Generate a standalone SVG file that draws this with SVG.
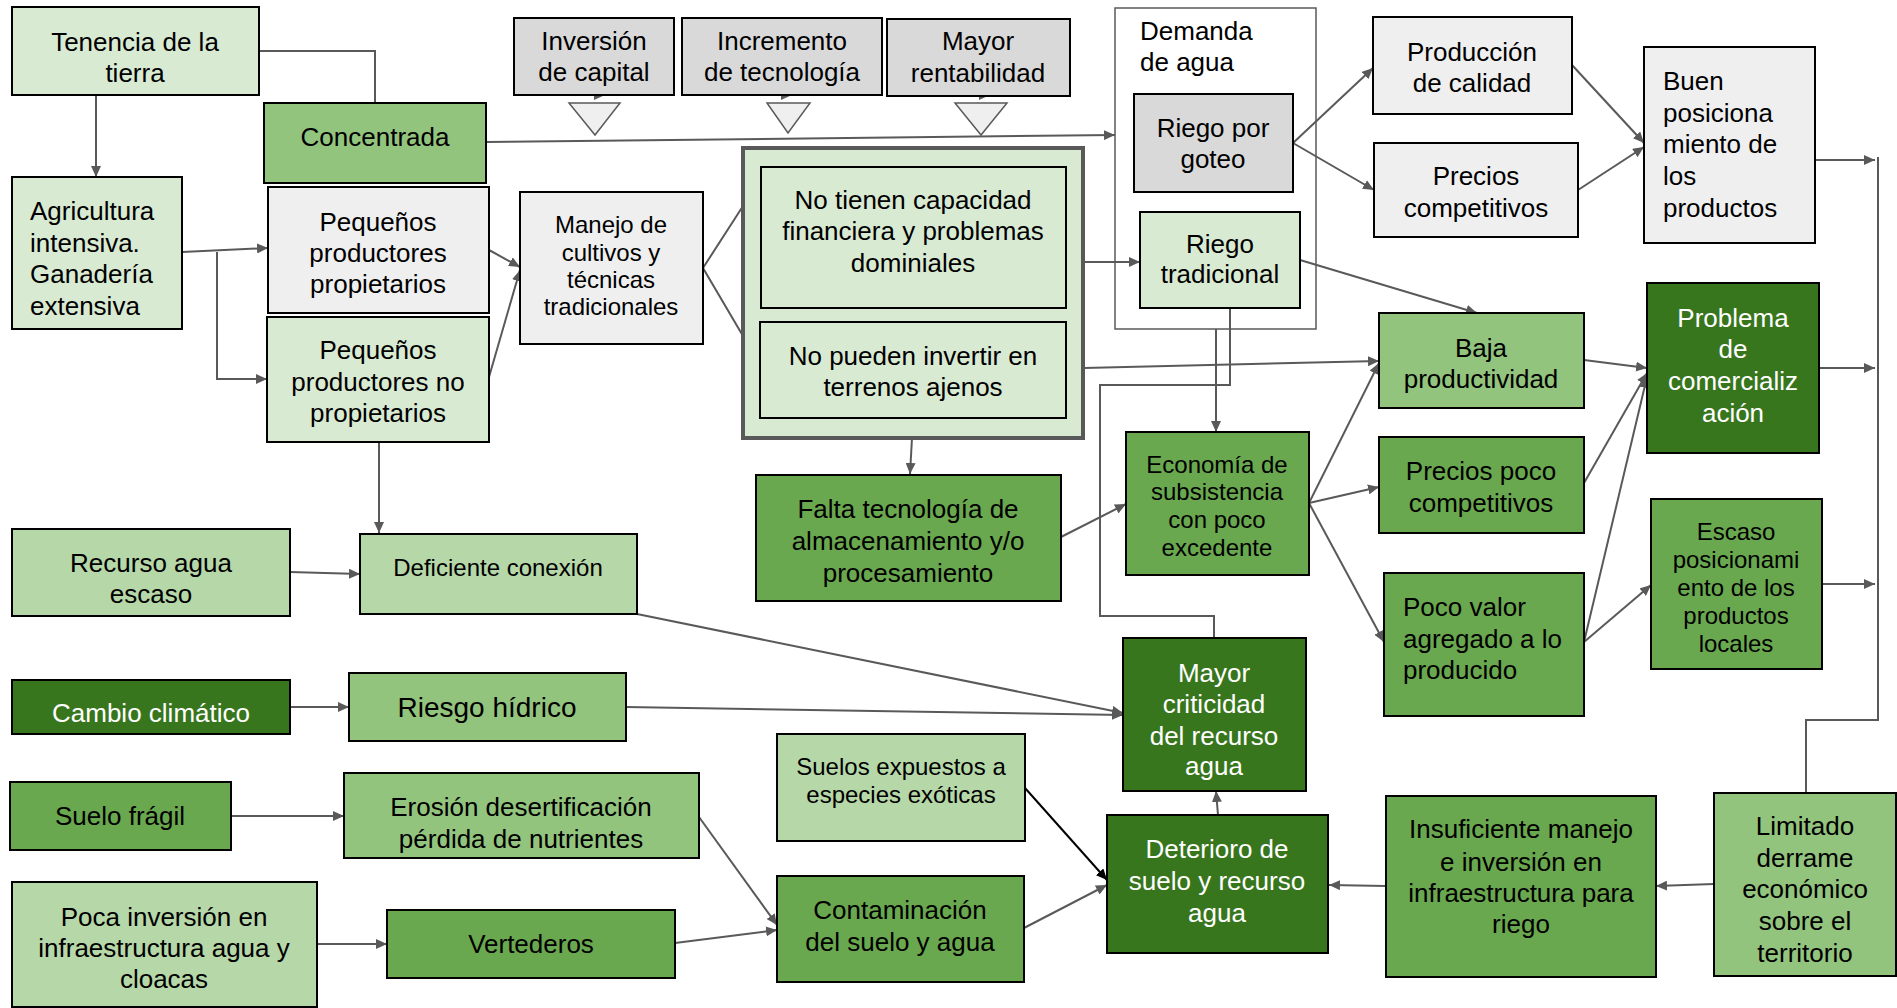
<svg xmlns="http://www.w3.org/2000/svg" width="1897" height="1008" viewBox="0 0 1897 1008">
  <defs>
    <marker id="arr" markerUnits="userSpaceOnUse" markerWidth="12" markerHeight="10" refX="11" refY="5" orient="auto">
      <path d="M0,0 L11,5 L0,10 z" fill="#595959"/>
    </marker>
    <marker id="arrk" markerUnits="userSpaceOnUse" markerWidth="12" markerHeight="10" refX="11" refY="5" orient="auto">
      <path d="M0,0 L11,5 L0,10 z" fill="#000"/>
    </marker>
    <style>
      .box { stroke: #000; stroke-width: 2; }
      .g0 { fill: #efefef; }
      .g1 { fill: #d9d9d9; }
      .l1 { fill: #d9ead3; }
      .l2 { fill: #b6d7a8; }
      .l3 { fill: #93c47d; }
      .m { fill: #6aa84f; }
      .d { fill: #38761d; }
      text { font-family: "Liberation Sans", Arial, sans-serif; font-size: 26px; fill: #000; }
      .c { text-anchor: middle; }
      .s { font-size: 24px; }
      .w { fill: #fff; }
      .cn { fill: none; stroke: #595959; stroke-width: 2; }
      .a { marker-end: url(#arr); }
      .tri { fill: #efefef; stroke: #595959; stroke-width: 1.5; }
    </style>
  </defs>
  <rect width="1897" height="1008" fill="#fff"/>

  <!-- grouped container boxes -->
  <g id="demanda-agua">
    <rect x="1115" y="8" width="201" height="321" fill="#fff" stroke="#595959" stroke-width="1.5"/>
    <text x="1140" y="40"><tspan x="1140" y="40">Demanda</tspan><tspan x="1140" y="71">de agua</tspan></text>
  </g>
  <g id="limitaciones">
    <rect x="743" y="148" width="340" height="290" class="l1" stroke="#595959" stroke-width="4"/>
  </g>

  <g id="connectors">
    <path class="cn" d="M259,51 H375 V103"/>
    <path class="cn a" d="M96,95 V177"/>
    <path class="cn a" d="M182,252 L268,248"/>
    <path class="cn a" d="M217,252 V379 H267"/>
    <path class="cn a" d="M486,142 L1115,135"/>
    <path class="cn a" d="M489,250 L520,267"/>
    <path class="cn a" d="M489,377 L520,270"/>
    <path class="cn" d="M743,206 L703,268 L743,336"/>
    <path class="cn a" d="M1084,262 H1140"/>
    <path class="cn a" d="M1084,368 L1379,361"/>
    <path class="cn a" d="M912,438 L910,474"/>
    <path class="cn a" d="M1293,143 L1373,68"/>
    <path class="cn a" d="M1293,143 L1374,190"/>
    <path class="cn a" d="M1572,65 L1644,143"/>
    <path class="cn a" d="M1578,190 L1644,147"/>
    <path class="cn a" d="M1815,160 H1875"/>
    <path class="cn a" d="M1300,260 L1477,313"/>
    <path class="cn a" d="M1216,329 V432"/>
    <path class="cn" d="M1230,308 V385 H1100 V616 H1214 V638"/>
    <path class="cn a" d="M1061,537 L1126,504"/>
    <path class="cn a" d="M1309,503 L1379,363"/>
    <path class="cn a" d="M1309,503 L1379,487"/>
    <path class="cn a" d="M1309,503 L1384,642"/>
    <path class="cn a" d="M1584,360 L1647,368"/>
    <path class="cn a" d="M1584,483 L1647,373"/>
    <path class="cn a" d="M1584,642 L1647,377"/>
    <path class="cn a" d="M1584,642 L1651,585"/>
    <path class="cn a" d="M1819,368 H1875"/>
    <path class="cn a" d="M1822,584 H1875"/>
    <path class="cn" d="M1806,793 V720 H1878 V157"/>
    <path class="cn a" d="M1714,884 L1656,886"/>
    <path class="cn a" d="M1386,886 L1329,885"/>
    <path class="cn a" d="M1218,815 L1216,791"/>
    <path class="cn a" d="M379,442 V533"/>
    <path class="cn a" d="M290,572 L360,574"/>
    <path class="cn a" d="M637,614 L1123,713"/>
    <path class="cn a" d="M290,707 H349"/>
    <path class="cn a" d="M626,707 L1123,715"/>
    <path class="cn a" d="M231,816 H344"/>
    <path class="cn a" d="M699,817 L777,925"/>
    <path class="cn a" d="M317,944 H387"/>
    <path class="cn a" d="M675,943 L777,930"/>
    <path fill="none" stroke="#000" stroke-width="2" marker-end="url(#arrk)" d="M1025,788 L1107,880"/>
    <path class="cn a" d="M1024,928 L1107,885"/>
    <path class="cn a" d="M590,95 H605"/>
    <path class="cn a" d="M778,95 H792"/>
    <path class="cn a" d="M975,95 H990"/>
  </g>

  <g id="triangulos">
    <polygon class="tri" points="569,103 620,103 595,135"/>
    <polygon class="tri" points="767,103 810,103 788,133"/>
    <polygon class="tri" points="955,103 1007,103 981,135"/>
  </g>

  <g id="tenencia">
    <rect class="box l1" x="12" y="7" width="247" height="88"/>
    <text class="c"><tspan x="135" y="51">Tenencia de la</tspan><tspan x="135" y="82">tierra</tspan></text>
  </g>
  <g id="concentrada">
    <rect class="box l3" x="264" y="103" width="222" height="80"/>
    <text class="c" x="375" y="146">Concentrada</text>
  </g>
  <g id="agricultura">
    <rect class="box l1" x="12" y="177" width="170" height="152"/>
    <text><tspan x="30" y="220">Agricultura</tspan><tspan x="30" y="252">intensiva.</tspan><tspan x="30" y="283">Ganadería</tspan><tspan x="30" y="315">extensiva</tspan></text>
  </g>
  <g id="pequenos-propietarios">
    <rect class="box g0" x="268" y="187" width="221" height="126"/>
    <text class="c"><tspan x="378" y="231">Pequeños</tspan><tspan x="378" y="262">productores</tspan><tspan x="378" y="293">propietarios</tspan></text>
  </g>
  <g id="pequenos-no-propietarios">
    <rect class="box l1" x="267" y="317" width="222" height="125"/>
    <text class="c"><tspan x="378" y="359">Pequeños</tspan><tspan x="378" y="391">productores no</tspan><tspan x="378" y="422">propietarios</tspan></text>
  </g>
  <g id="inversion">
    <rect class="box g1" x="514" y="18" width="160" height="77"/>
    <text class="c"><tspan x="594" y="50">Inversión</tspan><tspan x="594" y="81">de capital</tspan></text>
  </g>
  <g id="incremento">
    <rect class="box g1" x="682" y="18" width="200" height="77"/>
    <text class="c"><tspan x="782" y="50">Incremento</tspan><tspan x="782" y="81">de tecnología</tspan></text>
  </g>
  <g id="rentabilidad">
    <rect class="box g1" x="887" y="19" width="183" height="77"/>
    <text class="c"><tspan x="978" y="50">Mayor</tspan><tspan x="978" y="82">rentabilidad</tspan></text>
  </g>
  <g id="manejo">
    <rect class="box g0" x="520" y="192" width="183" height="152"/>
    <text class="c s"><tspan x="611" y="233">Manejo de</tspan><tspan x="611" y="261">cultivos y</tspan><tspan x="611" y="288">técnicas</tspan><tspan x="611" y="315">tradicionales</tspan></text>
  </g>
  <g id="capacidad">
    <rect class="box l1" x="761" y="167" width="305" height="141"/>
    <text class="c"><tspan x="913" y="209">No tienen capacidad</tspan><tspan x="913" y="240">financiera y problemas</tspan><tspan x="913" y="272">dominiales</tspan></text>
  </g>
  <g id="terrenos">
    <rect class="box l1" x="760" y="322" width="306" height="96"/>
    <text class="c"><tspan x="913" y="365">No pueden invertir en</tspan><tspan x="913" y="396">terrenos ajenos</tspan></text>
  </g>
  <g id="riego-goteo">
    <rect class="box g1" x="1134" y="94" width="159" height="98"/>
    <text class="c"><tspan x="1213" y="137">Riego por</tspan><tspan x="1213" y="168">goteo</tspan></text>
  </g>
  <g id="riego-tradicional">
    <rect class="box l1" x="1140" y="212" width="160" height="96"/>
    <text class="c"><tspan x="1220" y="253">Riego</tspan><tspan x="1220" y="283">tradicional</tspan></text>
  </g>
  <g id="produccion-calidad">
    <rect class="box g0" x="1373" y="17" width="199" height="97"/>
    <text class="c"><tspan x="1472" y="61">Producción</tspan><tspan x="1472" y="92">de calidad</tspan></text>
  </g>
  <g id="precios-competitivos">
    <rect class="box g0" x="1374" y="143" width="204" height="94"/>
    <text class="c"><tspan x="1476" y="185">Precios</tspan><tspan x="1476" y="217">competitivos</tspan></text>
  </g>
  <g id="buen-posicionamiento">
    <rect class="box g0" x="1644" y="47" width="171" height="196"/>
    <text><tspan x="1663" y="90">Buen</tspan><tspan x="1663" y="122">posiciona</tspan><tspan x="1663" y="153">miento de</tspan><tspan x="1663" y="185">los</tspan><tspan x="1663" y="217">productos</tspan></text>
  </g>
  <g id="baja-productividad">
    <rect class="box l3" x="1379" y="313" width="205" height="95"/>
    <text class="c"><tspan x="1481" y="357">Baja</tspan><tspan x="1481" y="388">productividad</tspan></text>
  </g>
  <g id="precios-poco">
    <rect class="box m" x="1379" y="437" width="205" height="96"/>
    <text class="c"><tspan x="1481" y="480">Precios poco</tspan><tspan x="1481" y="512">competitivos</tspan></text>
  </g>
  <g id="poco-valor">
    <rect class="box m" x="1384" y="573" width="200" height="143"/>
    <text><tspan x="1403" y="616">Poco valor</tspan><tspan x="1403" y="648">agregado a lo</tspan><tspan x="1403" y="679">producido</tspan></text>
  </g>
  <g id="problema-comercializacion">
    <rect class="box d" x="1647" y="283" width="172" height="170"/>
    <text class="c w"><tspan x="1733" y="327">Problema</tspan><tspan x="1733" y="358">de</tspan><tspan x="1733" y="390">comercializ</tspan><tspan x="1733" y="422">ación</tspan></text>
  </g>
  <g id="escaso-posicionamiento">
    <rect class="box m" x="1651" y="499" width="171" height="170"/>
    <text class="c s"><tspan x="1736" y="540">Escaso</tspan><tspan x="1736" y="568">posicionami</tspan><tspan x="1736" y="596">ento de los</tspan><tspan x="1736" y="624">productos</tspan><tspan x="1736" y="652">locales</tspan></text>
  </g>
  <g id="falta-tecnologia">
    <rect class="box m" x="756" y="475" width="305" height="126"/>
    <text class="c"><tspan x="908" y="518">Falta tecnología de</tspan><tspan x="908" y="550">almacenamiento y/o</tspan><tspan x="908" y="582">procesamiento</tspan></text>
  </g>
  <g id="economia-subsistencia">
    <rect class="box m" x="1126" y="432" width="183" height="143"/>
    <text class="c s"><tspan x="1217" y="473">Economía de</tspan><tspan x="1217" y="500">subsistencia</tspan><tspan x="1217" y="528">con poco</tspan><tspan x="1217" y="556">excedente</tspan></text>
  </g>
  <g id="recurso-agua">
    <rect class="box l2" x="12" y="529" width="278" height="87"/>
    <text class="c"><tspan x="151" y="572">Recurso agua</tspan><tspan x="151" y="603">escaso</tspan></text>
  </g>
  <g id="deficiente-conexion">
    <rect class="box l2" x="360" y="534" width="277" height="80"/>
    <text class="c s" x="498" y="576">Deficiente conexión</text>
  </g>
  <g id="cambio-climatico">
    <rect class="box d" x="12" y="680" width="278" height="54"/>
    <text class="c w" x="151" y="722">Cambio climático</text>
  </g>
  <g id="riesgo-hidrico">
    <rect class="box l3" x="349" y="673" width="277" height="68"/>
    <text class="c" x="487" y="717" style="font-size:28px">Riesgo hídrico</text>
  </g>
  <g id="suelo-fragil">
    <rect class="box m" x="10" y="782" width="221" height="68"/>
    <text class="c" x="120" y="825">Suelo frágil</text>
  </g>
  <g id="erosion">
    <rect class="box l3" x="344" y="773" width="355" height="85"/>
    <text class="c"><tspan x="521" y="816">Erosión desertificación</tspan><tspan x="521" y="848">pérdida de nutrientes</tspan></text>
  </g>
  <g id="poca-inversion">
    <rect class="box l2" x="12" y="882" width="305" height="125"/>
    <text class="c"><tspan x="164" y="926">Poca inversión en</tspan><tspan x="164" y="957">infraestructura agua y</tspan><tspan x="164" y="988">cloacas</tspan></text>
  </g>
  <g id="vertederos">
    <rect class="box m" x="387" y="910" width="288" height="68"/>
    <text class="c" x="531" y="953">Vertederos</text>
  </g>
  <g id="mayor-criticidad">
    <rect class="box d" x="1123" y="638" width="183" height="153"/>
    <text class="c w"><tspan x="1214" y="682">Mayor</tspan><tspan x="1214" y="713">criticidad</tspan><tspan x="1214" y="745">del recurso</tspan><tspan x="1214" y="775">agua</tspan></text>
  </g>
  <g id="suelos-expuestos">
    <rect class="box l2" x="777" y="734" width="248" height="107"/>
    <text class="c s"><tspan x="901" y="775">Suelos expuestos a</tspan><tspan x="901" y="803">especies exóticas</tspan></text>
  </g>
  <g id="contaminacion">
    <rect class="box m" x="777" y="876" width="247" height="106"/>
    <text class="c"><tspan x="900" y="919">Contaminación</tspan><tspan x="900" y="951">del suelo y agua</tspan></text>
  </g>
  <g id="deterioro">
    <rect class="box d" x="1107" y="815" width="221" height="138"/>
    <text class="c w"><tspan x="1217" y="858">Deterioro de</tspan><tspan x="1217" y="890">suelo y recurso</tspan><tspan x="1217" y="922">agua</tspan></text>
  </g>
  <g id="insuficiente-manejo">
    <rect class="box m" x="1386" y="796" width="270" height="181"/>
    <text class="c"><tspan x="1521" y="838">Insuficiente manejo</tspan><tspan x="1521" y="871">e inversión en</tspan><tspan x="1521" y="902">infraestructura para</tspan><tspan x="1521" y="933">riego</tspan></text>
  </g>
  <g id="limitado-derrame">
    <rect class="box l3" x="1714" y="793" width="182" height="183"/>
    <text class="c"><tspan x="1805" y="835">Limitado</tspan><tspan x="1805" y="867">derrame</tspan><tspan x="1805" y="898">económico</tspan><tspan x="1805" y="930">sobre el</tspan><tspan x="1805" y="962">territorio</tspan></text>
  </g>
</svg>
